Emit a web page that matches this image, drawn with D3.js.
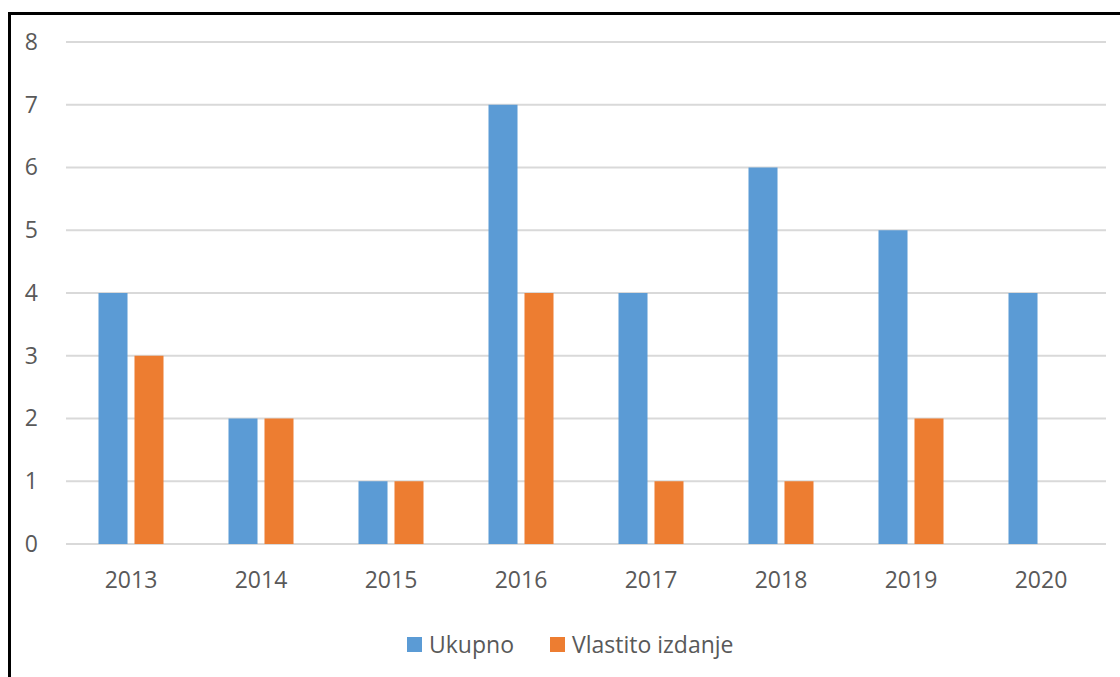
<!DOCTYPE html>
<html><head><meta charset="utf-8">
<script src="https://cdn.jsdelivr.net/npm/d3@7"></script>
<style>body{margin:0;background:#fff}svg{display:block}</style>
</head><body>
<script>
const categories = ["2013","2014","2015","2016","2017","2018","2019","2020"];
const ukupno = [4,2,1,7,4,6,5,4];
const vlastito = [3,2,1,4,1,1,2,0];
const seriesNames = ["Ukupno","Vlastito izdanje"];
const yTicks = [0,1,2,3,4,5,6,7,8];

const W=1120,H=677;
const svg=d3.select("body").append("svg").attr("width",W).attr("height",H);
svg.append("rect").attr("width",W).attr("height",H).attr("fill","#fff");
// frame
svg.append("line").attr("x1",9.5).attr("x2",9.5).attr("y1",12).attr("y2",H).attr("stroke","#000").attr("stroke-width",3);
svg.append("line").attr("x1",8).attr("x2",W).attr("y1",13.5).attr("y2",13.5).attr("stroke","#000").attr("stroke-width",3);

const x0=d3.scaleBand().domain(categories).range([66,1106]);
const y=d3.scaleLinear().domain([0,8]).range([544,42]);
const font="'Open Sans', sans-serif";

// gridlines
svg.append("g").selectAll("line").data(yTicks).join("line")
  .attr("x1",66).attr("x2",1106).attr("y1",d=>y(d)).attr("y2",d=>y(d))
  .attr("stroke","#d9d9d9").attr("stroke-width",2);

// y axis labels
const yAxis=d3.axisLeft(y).tickValues(yTicks).tickSize(0).tickPadding(0);
const gy=svg.append("g").attr("transform","translate(38,0)").call(yAxis);
gy.select(".domain").remove();
gy.selectAll("text").attr("font-family",font).attr("font-size",23).attr("fill","#595959");

// x axis labels
const xAxis=d3.axisBottom(x0).tickSize(0).tickPadding(0);
const gx=svg.append("g").attr("transform","translate(0,572)").call(xAxis);
gx.select(".domain").remove();
gx.selectAll("text").attr("font-family",font).attr("font-size",23).attr("fill","#595959").attr("dy","0.71em");

const colors=["#5B9BD5","#ED7D31"];
const bw=x0.bandwidth();
const x1=d3.scaleBand().domain(seriesNames).range([bw/2-32.5,bw/2+32.5]).paddingInner(0.194).paddingOuter(0);
const data=categories.map((c,i)=>({c,vals:[ukupno[i],vlastito[i]]}));
svg.append("g").selectAll("g").data(data).join("g")
  .attr("transform",d=>`translate(${x0(d.c)},0)`)
  .selectAll("rect").data(d=>d.vals.map((v,j)=>({v,s:seriesNames[j],j})).filter(e=>e.v>0)).join("rect")
  .attr("x",e=>x1(e.s)).attr("width",x1.bandwidth())
  .attr("y",e=>y(e.v)).attr("height",e=>y(0)-y(e.v)).attr("fill",e=>colors[e.j]);

// legend
const leg=svg.append("g").attr("font-family",font).attr("font-size",23).attr("fill","#595959");
const legX=[407,550];
seriesNames.forEach((n,i)=>{
  leg.append("rect").attr("x",legX[i]).attr("y",637).attr("width",15).attr("height",15).attr("fill",colors[i]);
  leg.append("text").attr("x",legX[i]+22).attr("y",653).text(n);
});
</script>
</body></html>
